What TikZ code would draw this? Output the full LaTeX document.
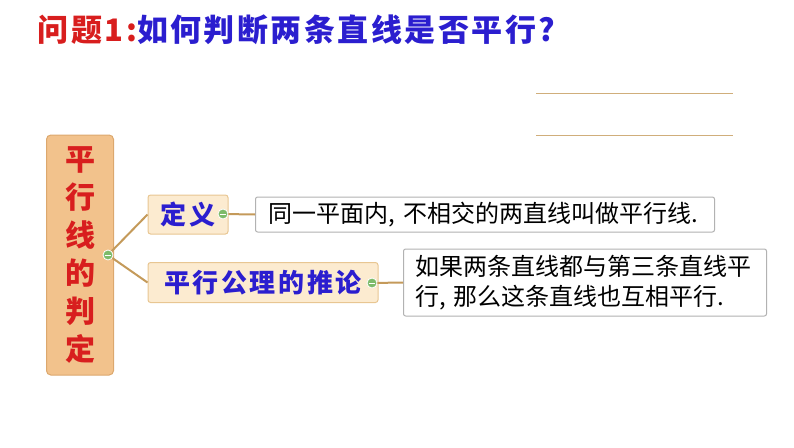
\documentclass[tikz,border=0pt]{standalone}
\usepackage{fontspec}
\newfontfamily\cjk{Noto Sans CJK SC}
\usepackage{tikz}
\usetikzlibrary{positioning}
\usetikzlibrary{backgrounds}
\definecolor{qred}{HTML}{D81E1E}
\definecolor{qblue}{HTML}{2B1ECF}
\definecolor{rootfill}{HTML}{F2C28C}
\definecolor{rootdraw}{HTML}{DCA86E}
\definecolor{subfill}{HTML}{FCEBD0}
\definecolor{subdraw}{HTML}{E8C692}
\definecolor{branchcol}{HTML}{C49A5A}
\definecolor{btnfill}{HTML}{7DBB6A}
\tikzset{every picture/.style={line width=1pt},
  rootbox/.style={draw=rootdraw,fill=rootfill,rounded corners=1ex,align=center,text=qred,font=\cjk\bfseries\fontsize{30}{38}\selectfont},
  subbox/.style={draw=subdraw,fill=subfill,rounded corners=0.6ex,text=qblue,font=\cjk\bfseries\fontsize{26}{30}\selectfont\addfontfeature{LetterSpace=10}},
  leafbox/.style={draw=black!30,fill=white,rounded corners=0.5ex,font=\cjk\fontsize{24}{30}\selectfont},
  btn/.style={circle,draw=white,fill=btnfill,line width=0.8pt,minimum size=10pt,inner sep=0pt},
  branch/.style={draw=branchcol,line width=2pt}}

\begin{document}
\begin{tikzpicture}[x=1pt,y=-1pt]
\useasboundingbox (0,0) rectangle (794,447);
\node (q) at (34,30) [anchor=west,font=\cjk\bfseries\fontsize{31}{36}\selectfont\addfontfeature{LetterSpace=8}] {\textcolor{qred}{问题1:}\textcolor{qblue}{如何判断两条直线是否平行?}};
\draw[draw=branchcol!80] (536,93) -- (733,93);
\draw[draw=branchcol!80] (536,135) -- (733,135);

\node (root) at (80,255) [rootbox,minimum width=67pt,minimum height=240pt] {平\\行\\线\\的\\判\\定};
\node (def) at (188,214.5) [subbox,minimum width=80pt,minimum height=39pt] {定\hspace{4pt}义};
\node (infer) at (263,282.5) [subbox,minimum width=230pt,minimum height=40pt] {平行公理的推论};
\node (defleaf) at (255,214.5) [leafbox,anchor=west,minimum width=459pt,minimum height=35pt,text width=433pt,inner xsep=13pt,align=left] {同一平面内, 不相交的两直线叫做平行线.};
\node (inferleaf) at (403,282.5) [leafbox,anchor=west,minimum height=67pt,text width=340pt,inner xsep=11.5pt,align=left] {如果两条直线都与第三条直线平\\行, 那么这条直线也互相平行.};

\node (rb) at (108,255) [btn] {};
\node (db) at (223,214) [btn] {};
\node (ib) at (372,283) [btn] {};
\draw[white,shorten <=2pt,shorten >=2pt] (rb.west) -- (rb.east);
\draw[white,shorten <=2pt,shorten >=2pt] (db.west) -- (db.east);
\draw[white,shorten <=2pt,shorten >=2pt] (ib.west) -- (ib.east);

\draw[branch] (rb) -- (def.west);
\draw[branch] (rb) -- (infer.west);
\draw[branch] (db) -- (defleaf.west);
\draw[branch] (ib) -- (inferleaf.west);
\end{tikzpicture}
\end{document}
